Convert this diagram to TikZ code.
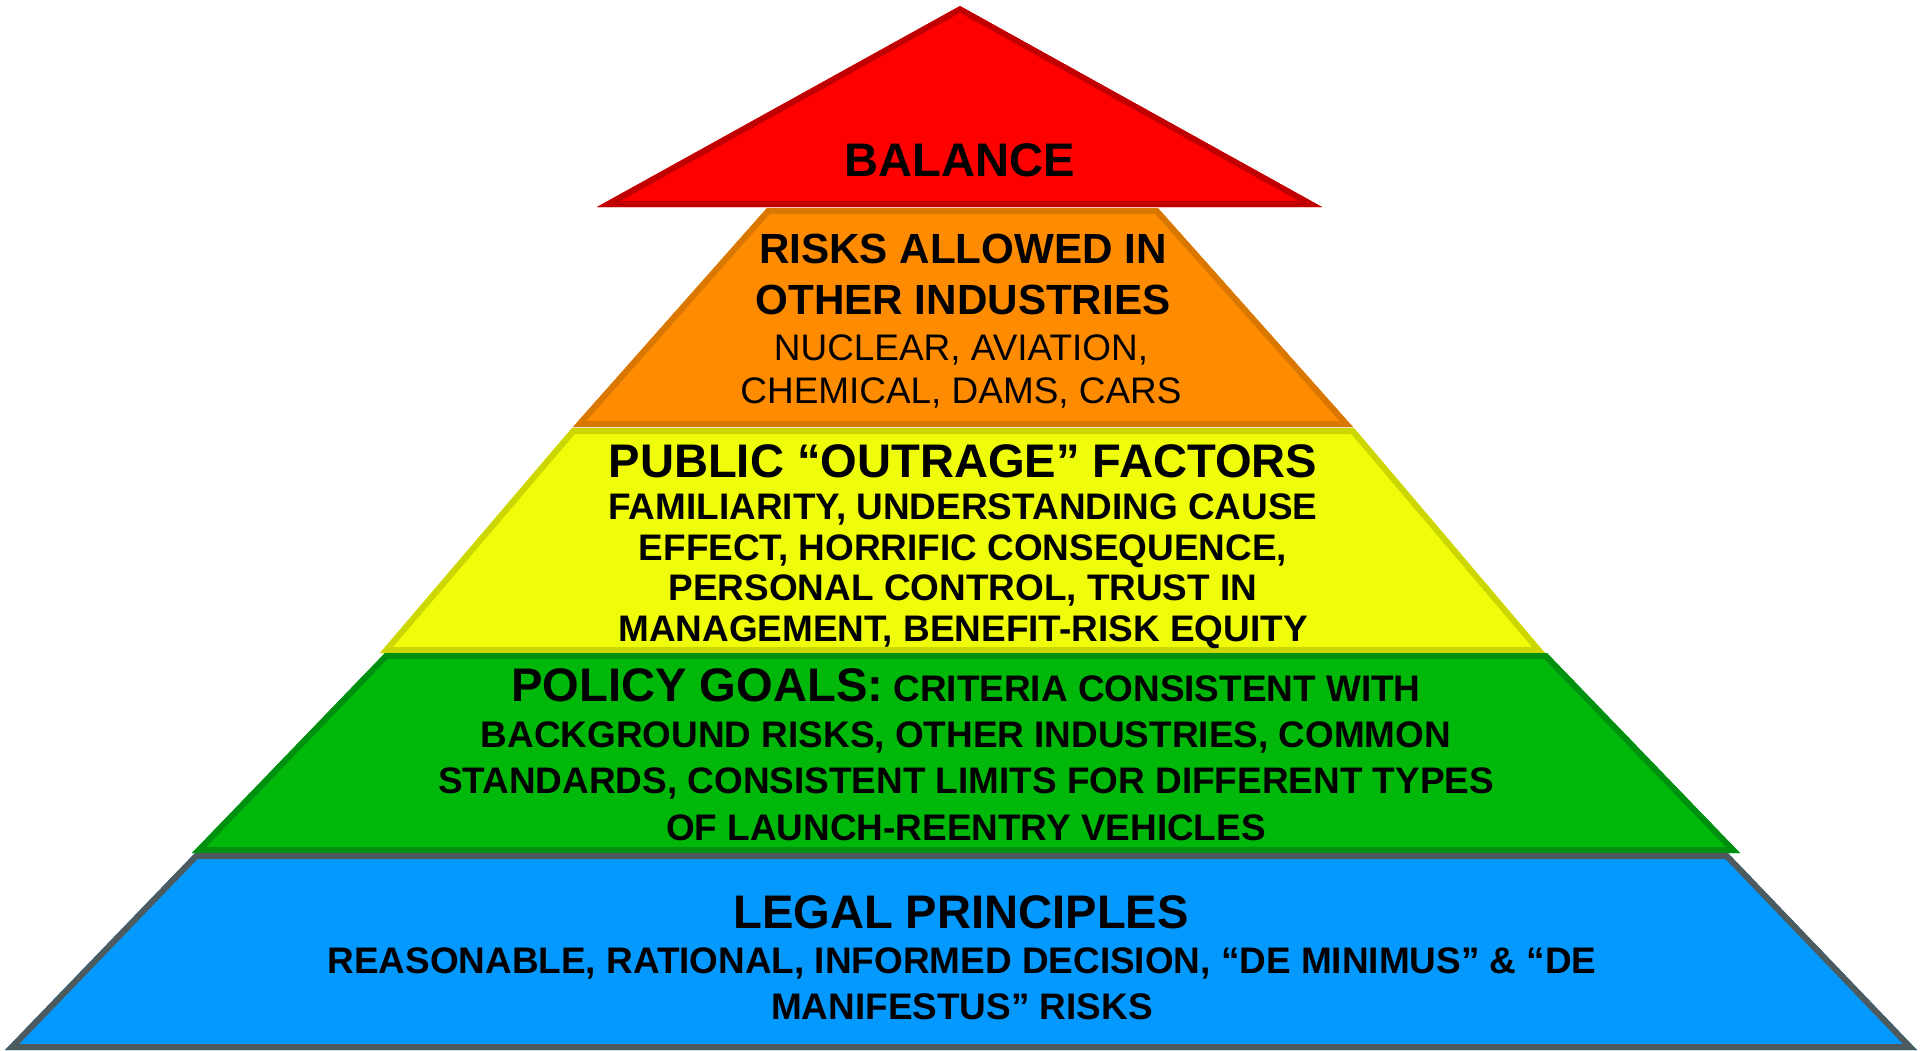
\documentclass[tikz,border=0pt]{standalone}
\usepackage{fontspec}
\setmainfont{Liberation Sans}
\definecolor{redfill}{HTML}{FF0000}
\definecolor{redline}{HTML}{C00000}
\definecolor{orangefill}{HTML}{FF8B00}
\definecolor{orangeline}{HTML}{D97700}
\definecolor{yellowfill}{HTML}{EFFD0A}
\definecolor{yellowline}{HTML}{CCD600}
\definecolor{greenfill}{HTML}{00B80A}
\definecolor{greenline}{HTML}{00900F}
\definecolor{bluefill}{HTML}{0499FF}
\definecolor{blueline}{HTML}{4D5B5E}
\begin{document}
\begin{tikzpicture}[x=0.01cm,y=-0.01cm]
  \tikzset{layer/.style={line width=0.12cm,line join=miter},
    big/.style={font=\bfseries\fontsize{13.4}{16}\selectfont,anchor=base},
    head/.style={font=\bfseries\fontsize{12}{14.5}\selectfont,align=center,anchor=base},
    body/.style={font=\bfseries\fontsize{10.5}{13.1}\selectfont,align=center,anchor=base},
    plain/.style={body,font=\mdseries\fontsize{10.5}{12.2}\selectfont}}
  \useasboundingbox (0,0) rectangle (1920,1051);

  % corners of the five layers
  \coordinate (r1) at (960,6); \coordinate (r2) at (1322,207);
  \coordinate (r3) at (597,207);
  \coordinate (o1) at (767,208); \coordinate (o2) at (1158,208);
  \coordinate (o3) at (1353,427); \coordinate (o4) at (573,427);
  \coordinate (y1) at (572,428); \coordinate (y2) at (1354,428);
  \coordinate (y3) at (1545,653); \coordinate (y4) at (380,653);
  \coordinate (g1) at (385,653); \coordinate (g2) at (1547,653);
  \coordinate (g3) at (1740,853); \coordinate (g4) at (192,853);
  \coordinate (b1) at (195,853); \coordinate (b2) at (1728,853);
  \coordinate (b3) at (1917,1050); \coordinate (b4) at (5,1050);

  \begin{scope}
    \clip (r1) -- (r2) -- (r3) -- cycle;
    \filldraw[layer,fill=redfill,draw=redline] (r1) -- (r2) -- (r3) -- cycle;
  \end{scope}
  \begin{scope}
    \clip (o1) -- (o2) -- (o3) -- (o4) -- cycle;
    \filldraw[layer,fill=orangefill,draw=orangeline] (o1) -- (o2) -- (o3) -- (o4) -- cycle;
  \end{scope}
  \begin{scope}
    \clip (y1) -- (y2) -- (y3) -- (y4) -- cycle;
    \filldraw[layer,fill=yellowfill,draw=yellowline] (y1) -- (y2) -- (y3) -- (y4) -- cycle;
  \end{scope}
  \begin{scope}
    \clip (g1) -- (g2) -- (g3) -- (g4) -- cycle;
    \filldraw[layer,fill=greenfill,draw=greenline] (g1) -- (g2) -- (g3) -- (g4) -- cycle;
  \end{scope}
  \begin{scope}
    \clip (b1) -- (b2) -- (b3) -- (b4) -- cycle;
    \filldraw[layer,fill=bluefill,draw=blueline] (b1) -- (b2) -- (b3) -- (b4) -- cycle;
  \end{scope}

  % texts (base of a multi-line node = its last line)
  \node[big] (balance) at (960,176) {BALANCE};
  \node[head] (others) at (963,314) {RISKS ALLOWED IN\\OTHER INDUSTRIES};
  \node[plain] (industries) at (961,403) {NUCLEAR, AVIATION,\\CHEMICAL, DAMS, CARS};
  \node[big] (outrage) at (963,477) {PUBLIC “OUTRAGE” FACTORS};
  \node[body,font=\bfseries\fontsize{10.5}{11.5}\selectfont] (factors) at (963,641)
    {FAMILIARITY, UNDERSTANDING CAUSE\\EFFECT, HORRIFIC CONSEQUENCE,\\
     PERSONAL CONTROL, TRUST IN\\MANAGEMENT, BENEFIT-RISK EQUITY};
  \node[body] (goals) at (966,840)
    {{\fontsize{13.4}{13.1}\selectfont POLICY GOALS:} CRITERIA CONSISTENT WITH\\
     BACKGROUND RISKS, OTHER INDUSTRIES, COMMON\\
     STANDARDS, CONSISTENT LIMITS FOR DIFFERENT TYPES\\
     OF LAUNCH-REENTRY VEHICLES};
  \node[big] (legal) at (961,928) {LEGAL PRINCIPLES};
  \node[body,font=\bfseries\fontsize{10.5}{12.9}\selectfont] (decision) at (962,1019)
    {REASONABLE, RATIONAL, INFORMED DECISION, “DE MINIMUS” \& “DE\\MANIFESTUS” RISKS};
\end{tikzpicture}
\end{document}
